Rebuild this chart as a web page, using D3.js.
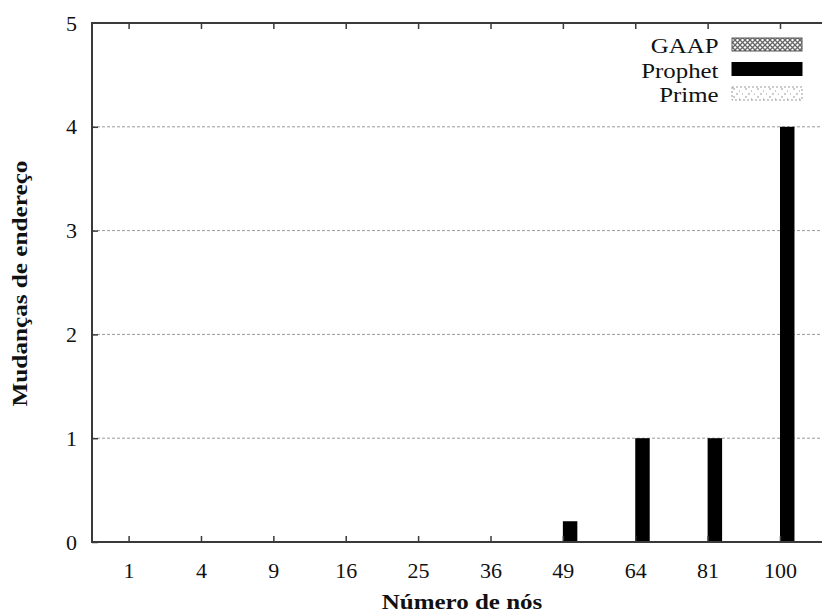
<!DOCTYPE html>
<html>
<head>
<meta charset="utf-8">
<script src="https://cdn.jsdelivr.net/npm/d3@7/dist/d3.min.js"></script>
<style>
  html, body { margin: 0; padding: 0; background: #fff; }
  svg { display: block; font-family: "Liberation Serif", "DejaVu Serif", serif; }
</style>
</head>
<body>
<svg id="chart" width="822" height="614"></svg>
<script>
// Number of nodes (x categories)
const categories = ["1", "4", "9", "16", "25", "36", "49", "64", "81", "100"];
// Series shown in the legend
const seriesNames = ["GAAP", "Prophet", "Prime"];
// Address changes per protocol
const gaapValues    = [0, 0, 0, 0, 0, 0, 0,   0, 0, 0];
const prophetValues = [0, 0, 0, 0, 0, 0, 0.2, 1, 1, 4];
const primeValues   = [0, 0, 0, 0, 0, 0, 0,   0, 0, 0];
// Y axis ticks
const yTicks = [0, 1, 2, 3, 4, 5];
const gridTicks = [1, 2, 3, 4];

const seriesValues = { GAAP: gaapValues, Prophet: prophetValues, Prime: primeValues };

const svg = d3.select("#chart");
const plotLeft = 92, plotRight = 826, plotTop = 23, plotBottom = 542;

// Pattern fills
const defs = svg.append("defs");
const hatch = defs.append("pattern")
  .attr("id", "pat-gaap").attr("patternUnits", "userSpaceOnUse")
  .attr("width", 5).attr("height", 5);
hatch.append("rect").attr("width", 5).attr("height", 5).attr("fill", "#fff");
hatch.append("path").attr("d", "M0,0 L5,5 M5,0 L0,5")
  .attr("stroke", "#666").attr("stroke-width", 1.3);

const dots = defs.append("pattern")
  .attr("id", "pat-prime").attr("patternUnits", "userSpaceOnUse")
  .attr("width", 12).attr("height", 8);
dots.append("rect").attr("width", 12).attr("height", 8).attr("fill", "#fff");
dots.append("path").attr("d", "M1,1 h2 M7,3 h1 M4,6 h2 M10,6 h1")
  .attr("stroke", "#999").attr("stroke-width", 1);

const fills = {
  GAAP: "url(#pat-gaap)",
  Prophet: "#000",
  Prime: "url(#pat-prime)"
};

// Scales
const x = d3.scalePoint().domain(categories).range([128.6, 780]);
const bw = x.step() / 5;
const xs = d3.scaleBand().domain(seriesNames).range([-bw, 2 * bw]).padding(0);
const y = d3.scaleLinear().domain([0, 5]).range([plotBottom, plotTop]);

// Grid lines
svg.append("g").selectAll("line").data(gridTicks).join("line")
  .attr("x1", plotLeft).attr("x2", plotRight)
  .attr("y1", d => y(d)).attr("y2", d => y(d))
  .attr("stroke", "#9a9a9a").attr("stroke-width", 1)
  .attr("stroke-dasharray", "3,2");

// Bars
const barG = svg.append("g");
seriesNames.forEach(name => {
  barG.append("g").selectAll("rect")
    .data(categories.map((c, i) => ({ c, v: seriesValues[name][i] })))
    .join("rect")
    .attr("x", d => x(d.c) + xs(name))
    .attr("width", xs.bandwidth())
    .attr("y", d => y(d.v))
    .attr("height", d => y(0) - y(d.v))
    .attr("fill", fills[name]);
});

// Axes
const axisColor = "#3a3a3a";
const xAxis = svg.append("g").attr("transform", `translate(0,${plotBottom})`)
  .call(d3.axisBottom(x).tickSize(-6).tickPadding(20));
const xTop = svg.append("g").attr("transform", `translate(0,${plotTop})`)
  .call(d3.axisTop(x).tickSize(-6).tickFormat(""));
const yAxis = svg.append("g").attr("transform", `translate(${plotLeft},0)`)
  .call(d3.axisLeft(y).tickValues(yTicks).tickSize(-6).tickPadding(15).tickFormat(d3.format("d")));

[xAxis, xTop, yAxis].forEach(g => {
  g.select(".domain").remove();
  g.selectAll(".tick line").attr("stroke", axisColor).attr("stroke-width", 1.5);
  g.selectAll(".tick text").attr("fill", "#111")
    .style("font-family", "'Liberation Serif', serif").style("font-size", "22px");
});
yAxis.selectAll(".tick").filter(d => d === 5).select("line").remove();

// Frame
svg.append("path")
  .attr("d", `M${plotRight},${plotTop} H${plotLeft} V${plotBottom} H${plotRight}`)
  .attr("fill", "none").attr("stroke", axisColor).attr("stroke-width", 2);

// Axis titles (wide serif face approximated by horizontal scaling)
svg.append("text")
  .attr("transform", "translate(462,609) scale(1.19,1)")
  .attr("text-anchor", "middle")
  .style("font-size", "21px").style("font-weight", "bold").attr("fill", "#111")
  .text("Número de nós");

svg.append("text")
  .attr("transform", "translate(27,283.5) rotate(-90) scale(1.2,1)")
  .attr("text-anchor", "middle")
  .style("font-size", "21px").style("font-weight", "bold").attr("fill", "#111")
  .text("Mudanças de endereço");

// Legend
const legend = svg.append("g");
seriesNames.forEach((name, i) => {
  const ly = 38 + i * 24.5;
  legend.append("text")
    .attr("transform", `translate(718.5,${ly + 15}) scale(1.13,1)`)
    .attr("text-anchor", "end")
    .style("font-size", "22px").attr("fill", "#111")
    .text(name);
  legend.append("rect")
    .attr("x", 732).attr("y", ly).attr("width", 70).attr("height", 13)
    .attr("fill", fills[name])
    .attr("stroke", name === "Prime" ? "#999" : (name === "GAAP" ? "#555" : "#000"))
    .attr("stroke-width", 1)
    .attr("stroke-dasharray", name === "Prime" ? "2,2" : null);
});
</script>
</body>
</html>
